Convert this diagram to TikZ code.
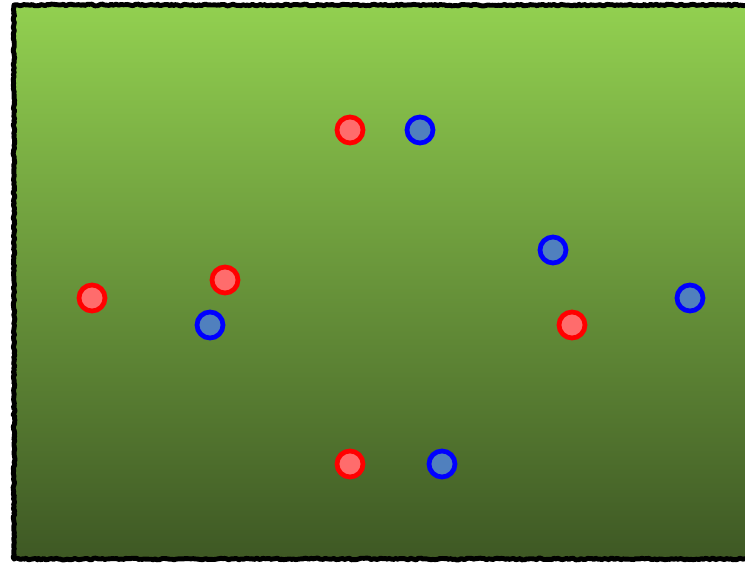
\documentclass[tikz,border=0pt]{standalone}
\usepackage{xcolor}
\usepackage{tikz}
\usetikzlibrary{decorations.pathmorphing}
\definecolor{fieldtop}{RGB}{146,208,80}
\definecolor{fieldbot}{RGB}{62,88,36}
\definecolor{redfill}{RGB}{255,108,108}
\definecolor{bluefill}{RGB}{80,128,190}

\begin{document}
\begin{tikzpicture}[x=0.02cm, y=-0.02cm,
  dot/.style={circle, minimum size=0.52cm, inner sep=0pt, line width=2.7pt},
  rdot/.style={dot, draw=red, fill=redfill},
  bdot/.style={dot, draw=blue, fill=bluefill},
  edge/.style={draw=black, line width=2.8pt, line join=round,
               decorate, decoration={random steps, segment length=1.2pt, amplitude=0.5pt}}
]
  \useasboundingbox (0,0) rectangle (745,563);
  \clip (0,0) rectangle (745,563);
  % playing field
  \shade[top color=fieldtop, bottom color=fieldbot] (14,5) rectangle (760,559);
  \draw[edge] (760,5) -- (14,5) -- (14,559) -- (760,559);
  % red side
  \node[rdot] (rtop) at (350,130) {};
  \node[rdot] (rleft) at (92,298) {};
  \node[rdot] (rmid) at (225,280) {};
  \node[rdot] (rright) at (572,325) {};
  \node[rdot] (rbot) at (350,464) {};
  % blue side
  \node[bdot] (btop) at (420,130) {};
  \node[bdot] (bmid) at (210,325) {};
  \node[bdot] (bup) at (553,250) {};
  \node[bdot] (bright) at (690,298) {};
  \node[bdot] (bbot) at (442,464) {};
\end{tikzpicture}
\end{document}
